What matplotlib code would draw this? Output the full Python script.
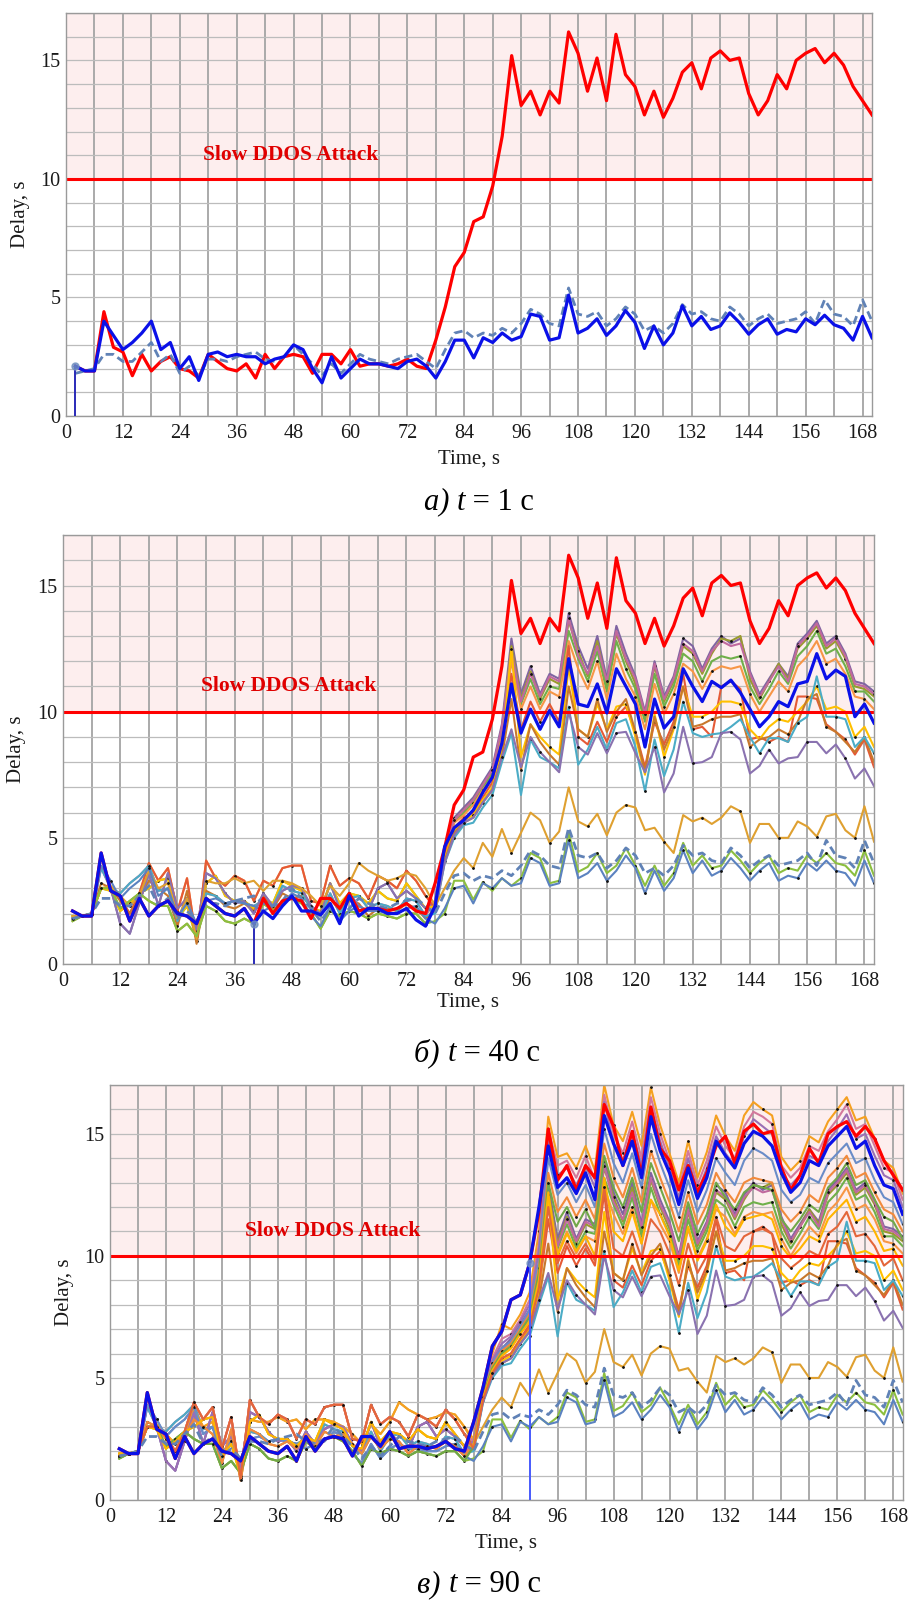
import numpy as np
import matplotlib
matplotlib.use("Agg")
import matplotlib.pyplot as plt
from matplotlib.offsetbox import TextArea, HPacker, AnnotationBbox

plt.rcParams["font.family"] = ["Liberation Serif", "DejaVu Serif"]

# time axis, one sample every 2 s
t = np.arange(2, 171, 2)

# ---- main series ----
red = [2.1, 1.9, 1.9, 4.4, 2.9, 2.7, 1.7, 2.6, 1.9, 2.3, 2.5, 2.0, 1.9, 1.6, 2.6, 2.3, 2.0, 1.9, 2.2, 1.6,
       2.6, 2.0, 2.5, 2.6, 2.5, 1.8, 2.6, 2.6, 2.2, 2.8, 2.1, 2.2, 2.2, 2.1, 2.2, 2.4, 2.1, 2.0,
       3.2, 4.6, 6.3, 6.9, 8.2, 8.4, 9.7, 11.8,
       15.2, 13.1, 13.7, 12.7, 13.7, 13.2,
       16.2, 15.3, 13.7, 15.1, 13.3, 16.1, 14.4, 13.9,
       12.7, 13.7, 12.6, 13.4, 14.5, 14.9, 13.8, 15.1, 15.4, 15.0, 15.1, 13.6,
       12.7, 13.3, 14.4, 13.8, 15.0, 15.3, 15.5, 14.9, 15.3, 14.8, 13.9, 13.3, 12.7]

blue1 = [2.1, 1.9, 1.9, 4.0, 3.4, 2.8, 3.1, 3.5, 4.0, 2.8, 3.1, 2.0, 2.5, 1.5, 2.6, 2.7, 2.5, 2.6, 2.5, 2.5,
         2.2, 2.4, 2.5, 3.0, 2.8, 2.0, 1.4, 2.5, 1.6, 2.0, 2.4, 2.2, 2.2, 2.1, 2.0, 2.3, 2.4, 2.1,
         1.6, 2.3, 3.2, 3.2, 2.45, 3.3, 3.1, 3.5,
         3.2, 3.35, 4.3, 4.2, 3.2, 3.3,
         5.1, 3.5, 3.7, 4.1, 3.4, 3.8, 4.45, 3.95,
         2.85, 3.8, 3.0, 3.5, 4.65, 3.8, 4.2, 3.65, 3.8, 4.35, 3.95, 3.45,
         3.85, 4.1, 3.45, 3.65, 3.55, 4.1, 3.85, 4.25, 3.85, 3.7, 3.2, 4.2, 3.3]

dashed = [1.8, 1.9, 2.0, 2.6, 2.6, 2.3, 2.3, 2.7, 3.1, 2.3, 2.6, 1.8, 2.1, 1.7, 2.4, 2.4, 2.3, 2.5, 2.6, 2.7,
          2.4, 2.3, 2.5, 3.0, 2.6, 2.2, 1.7, 2.2, 1.8, 2.2, 2.6, 2.4, 2.3, 2.2, 2.4, 2.5, 2.6, 2.3,
          2.0, 2.8, 3.5, 3.6, 3.3, 3.5, 3.4, 3.7,
          3.5, 3.9, 4.5, 4.3, 3.9, 3.8,
          5.4, 4.3, 4.2, 4.4, 3.8, 4.1, 4.6, 4.3,
          3.6, 3.8, 3.5, 3.9, 4.7, 4.3, 4.4, 4.1, 4.0, 4.6, 4.3, 3.8,
          4.1, 4.3, 3.9, 4.0, 4.1, 4.4, 3.9, 4.9, 4.3, 4.2, 3.8, 4.9, 4.0]

# prediction in panel b) after the 40 s cursor
blue2_mid = [2.1, 1.8, 2.3, 2.7, 2.1, 2.1, 1.95, 2.4, 1.6, 2.7, 1.9, 2.2, 2.2, 2.0, 2.0, 2.2, 1.75, 1.5]
blue2_post = [2.3, 4.65, 5.4, 5.7, 6.1, 6.8, 7.4, 8.75,
              11.1, 9.15, 10.1, 9.3, 10.05, 9.4,
              12.1, 10.3, 10.2, 11.1, 9.95, 11.7, 11.0, 10.3,
              8.6, 10.5, 9.35, 9.8, 11.7, 11.0, 10.4, 11.2, 10.95, 11.25, 10.75, 10.1,
              9.4, 9.8, 10.4, 10.2, 11.1, 11.2, 12.3, 11.3, 11.65, 11.4, 9.8, 10.3, 9.55]
blue2 = red[:20] + blue2_mid + blue2_post

# prediction in panel c) after the 90 s cursor
blue3_post = [12.0, 14.5, 12.8, 13.2, 12.55, 13.4, 12.3,
              15.75, 14.6, 13.7, 14.7, 13.2, 15.7, 14.3, 13.4,
              12.1, 13.6, 12.35, 13.2, 14.7, 14.1, 13.6, 14.6, 15.1, 14.9, 14.5, 13.4,
              12.6, 13.0, 13.9, 13.7, 14.5, 14.9, 15.3, 14.4, 14.7, 13.7, 12.9, 12.75, 11.7]
blue3 = red[:45] + blue3_post

# ---- background curves: before the attack (t = 2..76) ----
pre_a = [1.8, 1.9, 2.0, 3.0, 3.0, 2.6, 2.0, 2.8, 4.0, 3.3, 3.8, 2.1, 3.4, 0.9, 4.1, 3.4, 3.1, 3.5, 3.3, 2.5,
         3.3, 3.1, 3.8, 3.9, 3.9, 2.5, 2.4, 3.9, 3.1, 3.4, 3.2, 2.6, 3.5, 3.3, 3.0, 3.7, 3.3, 2.7]
pre_b = [1.9, 1.9, 2.0, 3.0, 3.1, 2.7, 2.3, 2.7, 3.7, 3.0, 3.2, 1.8, 2.6, 1.0, 3.3, 3.2, 3.2, 3.4, 3.2, 3.3,
         2.9, 3.3, 3.3, 3.2, 3.0, 2.7, 2.3, 3.1, 2.7, 3.2, 4.0, 3.7, 3.5, 3.3, 3.4, 3.6, 3.5, 3.0]
pre_c = [1.8, 1.9, 2.0, 4.3, 3.0, 1.6, 1.2, 2.4, 3.6, 2.3, 3.6, 2.2, 2.6, 1.3, 3.6, 3.4, 2.8, 2.4, 2.5, 2.0,
         2.8, 2.3, 2.9, 3.1, 3.0, 2.3, 2.0, 3.2, 2.2, 2.8, 2.3, 2.1, 3.0, 3.2, 2.6, 2.9, 2.6, 2.2]
pre_d = [1.7, 1.9, 2.0, 3.0, 3.0, 2.2, 2.5, 2.8, 2.5, 2.3, 2.3, 1.3, 1.6, 1.1, 2.3, 2.1, 1.7, 1.6, 1.8, 1.6,
         2.4, 2.1, 2.5, 2.6, 2.4, 2.0, 1.4, 2.1, 1.9, 2.1, 2.0, 1.8, 2.0, 1.9, 1.8, 2.0, 2.0, 1.6]
pre_e = [1.9, 1.9, 2.0, 3.0, 2.9, 2.1, 2.4, 2.8, 3.0, 3.3, 3.4, 1.8, 2.3, 1.0, 3.2, 3.5, 2.7, 2.5, 2.5, 2.2,
         2.6, 2.4, 3.3, 3.1, 2.9, 2.2, 2.1, 3.2, 2.4, 2.8, 2.7, 2.4, 2.9, 2.6, 2.5, 3.2, 2.7, 2.2]
pre_f = [1.8, 1.9, 2.0, 3.8, 3.0, 2.8, 3.2, 3.5, 3.9, 2.9, 3.0, 1.7, 2.5, 1.5, 2.8, 2.7, 2.4, 2.5, 2.4, 2.3,
         2.5, 2.3, 3.1, 2.9, 2.8, 2.2, 1.9, 2.8, 2.0, 2.6, 2.7, 2.2, 2.4, 2.3, 2.1, 2.6, 2.5, 1.9]
pre_g = [1.8, 1.9, 1.9, 3.9, 3.3, 2.6, 3.0, 3.3, 3.8, 2.7, 3.0, 1.9, 2.4, 1.6, 2.5, 2.6, 2.4, 2.5, 2.4, 2.3,
         2.1, 2.3, 2.4, 2.8, 2.6, 1.9, 1.5, 2.3, 1.7, 2.1, 2.3, 2.1, 2.1, 2.0, 2.0, 2.2, 2.3, 1.8]
pre_h = [1.8, 1.9, 2.0, 3.2, 3.0, 2.5, 2.0, 2.6, 3.3, 3.0, 2.7, 1.5, 2.9, 0.8, 2.9, 2.7, 2.3, 2.2, 2.4, 2.1,
         2.7, 2.2, 2.8, 2.6, 2.7, 2.3, 1.9, 2.6, 2.1, 2.5, 2.4, 1.9, 2.2, 2.2, 2.1, 2.4, 2.2, 1.8]

# ---- background curves: from the attack on (t = 78..170) ----
up1 = [2.5, 4.6, 5.8, 6.2, 6.6, 7.2, 7.8, 9.5, 12.9, 10.7, 11.8, 10.7, 11.5, 11.3,
       13.9, 12.6, 11.7, 13.0, 11.3, 13.4, 12.3, 11.4, 10.0, 12.0, 10.6, 11.4, 12.9, 12.6, 11.7, 12.5, 13.0, 12.7, 12.9, 11.6,
       10.7, 11.3, 11.9, 11.4, 12.7, 13.1, 13.6, 12.7, 13.0, 12.3, 11.2, 11.1, 10.8]
up2 = [2.4, 4.5, 5.7, 6.1, 6.5, 7.1, 7.6, 9.3, 12.6, 10.5, 11.6, 10.5, 11.3, 11.1,
       13.6, 12.4, 11.4, 12.8, 11.0, 13.1, 12.0, 11.1, 9.8, 11.8, 10.4, 11.2, 12.6, 12.3, 11.5, 12.3, 12.9, 12.8, 13.0, 11.3,
       10.5, 11.2, 11.9, 11.3, 12.5, 12.9, 13.4, 12.5, 12.8, 12.1, 11.0, 10.9, 10.6]
up3 = [2.3, 4.4, 5.6, 6.0, 6.4, 7.0, 7.5, 9.1, 12.3, 10.3, 11.3, 10.3, 11.0, 10.9,
       13.2, 12.1, 11.2, 12.4, 10.8, 12.8, 11.7, 10.9, 9.6, 11.5, 10.2, 11.0, 12.3, 12.0, 11.2, 12.0, 12.2, 12.1, 12.2, 11.0,
       10.3, 10.9, 11.6, 11.1, 12.2, 12.6, 13.2, 12.3, 12.5, 11.8, 10.8, 10.8, 10.4]
up4 = [2.4, 4.5, 5.6, 5.9, 6.3, 6.9, 7.4, 9.0, 12.0, 10.1, 11.0, 10.1, 10.8, 10.6,
       12.8, 11.7, 10.9, 12.0, 10.5, 12.3, 11.3, 10.6, 9.3, 11.1, 9.9, 10.7, 11.9, 11.6, 10.9, 11.6, 11.8, 11.7, 11.8, 10.7,
       10.0, 10.6, 11.2, 10.8, 11.8, 12.2, 12.8, 11.9, 12.1, 11.5, 10.6, 10.5, 10.1]
up5 = [2.5, 4.6, 5.7, 6.1, 6.5, 7.1, 7.7, 9.4, 12.4, 10.4, 11.5, 10.6, 11.4, 11.2,
       13.7, 12.2, 11.5, 12.6, 11.2, 13.2, 12.1, 11.3, 9.9, 11.9, 10.5, 11.3, 12.7, 12.4, 11.6, 12.4, 12.8, 12.6, 12.7, 11.5,
       10.6, 11.2, 11.8, 11.2, 12.6, 13.0, 13.5, 12.6, 12.9, 12.2, 11.1, 11.0, 10.7]
mid_red = [2.2, 4.3, 5.4, 5.8, 6.0, 6.6, 7.2, 8.6, 11.5, 9.3, 10.4, 9.6, 10.3, 9.6,
           12.6, 9.0, 8.7, 9.6, 8.8, 9.8, 10.2, 9.2, 7.8, 9.6, 8.7, 9.6, 11.5, 9.3, 9.4, 9.0, 11.0, 11.2, 10.9, 8.9,
           9.0, 8.8, 9.0, 8.8, 10.6, 10.6, 10.5, 9.5, 9.2, 8.9, 8.3, 8.9, 7.8]
yellow = [2.3, 4.2, 5.3, 5.7, 5.9, 6.5, 7.0, 8.4, 12.5, 8.2, 9.5, 9.0, 8.6, 8.3,
          11.8, 9.3, 9.0, 10.3, 9.3, 10.2, 10.3, 9.0, 7.5, 9.9, 8.2, 9.3, 11.0, 9.8, 9.8, 10.0, 10.4, 10.4, 10.3, 9.3,
          8.9, 9.4, 9.7, 9.6, 10.0, 10.4, 11.0, 10.1, 10.2, 10.0, 9.0, 9.4, 8.6]
brown = [2.1, 4.1, 5.2, 5.6, 5.8, 6.4, 6.9, 8.2, 10.5, 7.7, 9.5, 8.8, 8.3, 7.9,
         11.0, 9.3, 9.0, 10.5, 9.2, 10.0, 10.5, 9.2, 7.6, 9.8, 8.5, 9.4, 11.0, 9.4, 9.5, 9.7, 9.8, 9.8, 9.9, 8.6,
         8.9, 9.0, 9.3, 9.1, 9.6, 10.5, 10.7, 9.4, 9.2, 8.8, 8.4, 9.0, 8.0]
sky = [2.0, 4.0, 5.0, 5.5, 5.6, 6.2, 6.7, 8.0, 9.15, 6.7, 8.9, 8.2, 8.0, 7.75,
       10.2, 7.9, 8.5, 9.4, 8.5, 9.55, 9.7, 8.6, 6.85, 8.9, 7.45, 8.5, 10.4, 9.15, 9.0, 9.1, 9.15, 9.4, 9.7, 9.0,
       8.35, 8.95, 8.95, 8.8, 9.55, 9.8, 11.4, 9.8, 9.8, 9.7, 8.6, 9.0, 8.35]
purple = [2.1, 4.0, 5.1, 5.6, 5.8, 6.4, 6.9, 8.2, 9.3, 7.8, 9.0, 8.4, 8.0, 7.6,
          10.0, 8.6, 8.3, 9.15, 8.35, 9.15, 9.2, 8.35, 7.6, 8.6, 6.8, 7.55, 9.4, 7.95, 8.0, 8.2, 9.15, 9.2, 8.9, 7.55,
          7.85, 8.5, 7.95, 8.15, 8.2, 8.8, 8.8, 8.35, 8.7, 8.15, 7.35, 7.75, 7.05]
gold = [2.3, 3.0, 3.7, 4.2, 3.8, 4.8, 4.25, 5.35, 4.4, 5.2, 6.0, 5.7, 4.8, 5.25,
        7.0, 5.65, 5.45, 5.95, 5.1, 6.0, 6.3, 6.2, 5.3, 5.4, 4.85, 4.4, 5.9, 5.65, 5.8, 5.55, 5.8, 6.25, 6.05, 4.8,
        5.55, 5.55, 5.0, 5.0, 5.65, 5.45, 5.05, 5.85, 5.95, 5.3, 5.0, 6.25, 4.85]
green = [1.7, 2.0, 3.3, 3.3, 2.55, 3.25, 2.9, 3.4, 3.1, 3.4, 4.4, 4.2, 3.2, 3.3,
         5.2, 3.65, 3.85, 4.4, 3.6, 3.9, 4.6, 3.9, 3.1, 3.9, 3.1, 3.6, 4.8, 3.9, 4.3, 3.8, 3.9, 4.5, 4.1, 3.6,
         4.0, 4.3, 3.6, 3.8, 3.7, 4.3, 4.0, 4.4, 4.0, 3.9, 3.5, 4.5, 3.5]
steel = [1.6, 2.2, 3.0, 3.1, 2.4, 3.2, 3.0, 3.4, 3.1, 3.2, 4.2, 4.0, 3.1, 3.2,
         4.9, 3.4, 3.6, 4.0, 3.3, 3.7, 4.3, 3.8, 2.8, 3.7, 2.9, 3.4, 4.5, 3.6, 4.1, 3.5, 3.7, 4.2, 3.8, 3.3,
         3.7, 4.0, 3.3, 3.5, 3.4, 4.0, 3.7, 4.1, 3.7, 3.6, 3.1, 4.1, 3.2]

# extra curves that only appear in panel c)
top1 = [2.5, 4.6, 6.0, 7.2, 7.0, 7.6, 8.5, 11.0, 15.7, 14.05, 14.2, 13.6, 14.5, 13.5,
        17.0, 15.35, 14.7, 15.9, 14.5, 16.9, 15.35, 14.2, 13.0, 14.7, 13.2, 14.25, 15.75, 14.9, 14.3, 15.75, 16.3, 16.0, 15.75, 14.05,
        13.5, 13.9, 14.9, 14.65, 15.5, 16.0, 16.5, 15.55, 15.7, 14.8, 13.9, 13.6, 12.55]
top2 = [2.4, 4.5, 5.8, 6.6, 6.8, 7.4, 8.2, 10.5, 15.2, 13.7, 13.9, 13.2, 14.1, 13.1,
        16.6, 15.0, 14.2, 15.5, 14.0, 16.5, 15.0, 13.9, 12.7, 14.3, 12.9, 13.9, 15.3, 14.5, 14.0, 15.3, 15.9, 15.7, 15.4, 13.7,
        13.2, 13.6, 14.5, 14.3, 15.1, 15.6, 16.2, 15.2, 15.4, 14.5, 13.6, 13.4, 12.3]
top3 = [2.4, 4.5, 5.7, 6.4, 6.7, 7.3, 8.0, 10.2, 14.8, 13.3, 13.6, 12.9, 13.7, 12.8,
        16.3, 14.6, 13.9, 15.1, 13.7, 16.1, 14.7, 13.6, 12.4, 14.0, 12.6, 13.6, 14.9, 14.2, 13.7, 14.9, 15.6, 15.3, 15.0, 13.4,
        12.9, 13.3, 14.1, 13.9, 14.7, 15.2, 15.8, 14.8, 15.0, 14.1, 13.3, 13.1, 12.0]
band1 = [2.3, 4.4, 5.6, 6.2, 6.5, 7.1, 7.8, 9.8, 14.0, 12.5, 13.0, 12.2, 12.9, 12.0,
         15.2, 13.8, 13.0, 14.2, 12.8, 15.0, 13.8, 12.8, 11.6, 13.1, 11.8, 12.7, 14.0, 13.4, 12.9, 13.9, 14.4, 14.2, 13.9, 12.7,
         12.2, 12.5, 13.2, 13.0, 13.8, 14.2, 14.6, 13.8, 14.0, 13.1, 12.4, 12.2, 11.3]
band2 = [2.3, 4.3, 5.5, 6.1, 6.4, 7.0, 7.6, 9.5, 13.4, 11.8, 12.4, 11.6, 12.3, 11.5,
         14.6, 13.2, 12.4, 13.6, 12.2, 14.3, 13.2, 12.2, 11.0, 12.6, 11.3, 12.1, 13.4, 12.7, 12.2, 13.0, 13.2, 13.1, 13.0, 11.9,
         11.4, 11.8, 12.5, 12.2, 13.2, 13.6, 14.1, 13.2, 13.4, 12.6, 11.9, 11.7, 11.0]
band3 = [2.2, 4.3, 5.4, 6.0, 6.3, 6.9, 7.5, 9.3, 13.0, 11.4, 12.0, 11.2, 11.9, 11.1,
         14.1, 12.8, 12.0, 13.2, 11.8, 13.8, 12.8, 11.8, 10.6, 12.2, 10.9, 11.7, 13.0, 12.4, 11.9, 12.6, 12.9, 12.8, 12.7, 11.5,
         11.0, 11.5, 12.1, 11.8, 12.8, 13.2, 13.8, 12.9, 13.1, 12.3, 11.6, 11.4, 10.7]
mid1 = [2.2, 4.2, 5.3, 5.9, 6.2, 6.8, 7.3, 9.0, 12.6, 10.0, 10.9, 10.2, 10.8, 10.0,
        13.2, 11.0, 10.6, 11.8, 10.5, 12.3, 11.7, 10.8, 9.4, 11.2, 9.8, 10.6, 12.1, 11.2, 10.8, 11.5, 11.6, 11.7, 11.5, 10.4,
        9.9, 10.3, 10.8, 10.6, 11.5, 11.9, 12.3, 11.4, 11.6, 11.0, 10.2, 10.3, 9.6]
mid2 = [2.1, 4.1, 5.2, 5.8, 6.0, 6.6, 7.1, 8.7, 12.0, 9.7, 10.6, 9.9, 10.5, 9.8,
        12.8, 10.3, 10.0, 11.0, 9.9, 11.5, 11.0, 10.1, 8.8, 10.5, 9.3, 10.0, 11.6, 10.4, 10.2, 10.8, 11.0, 11.1, 10.9, 9.9,
        9.5, 9.8, 10.2, 10.0, 10.9, 11.2, 11.8, 10.8, 10.9, 10.4, 9.6, 9.9, 9.0]

# (pre part, post part, colour)
curves_b = [
    (pre_c, up1, "#8064a2"), (pre_d, up2, "#9a9a2e"), (pre_e, up3, "#6fb04a"),
    (pre_a, up4, "#f79646"), (pre_f, up5, "#c0699e"), (pre_a, mid_red, "#e55a36"),
    (pre_e, yellow, "#ffc000"), (pre_h, brown, "#c8782c"), (pre_f, sky, "#4bacc6"),
    (pre_c, purple, "#8a72b0"), (pre_b, gold, "#dfa030"), (pre_d, green, "#8cbf3f"),
    (pre_g, steel, "#5b82c0"),
]
curves_c_extra = [
    (pre_b, top1, "#f5a020"), (pre_a, top2, "#d2789c"), (pre_c, top3, "#9b6fb5"),
    (pre_g, band1, "#6a8cc8"), (pre_h, band2, "#f28a3c"), (pre_d, band3, "#70a848"),
    (pre_e, mid1, "#ffb400"), (pre_a, mid2, "#e4663a"),
]

cursor_times = [2, 40, 90]
captions = [("а) ", "1"), ("б) ", "40"), ("в) ", "90")]

fig = plt.figure(figsize=(9.09, 16.0), dpi=100)
axes = [
    fig.add_axes([0.0726, 0.740, 0.8867, 0.2519]),
    fig.add_axes([0.0693, 0.3975, 0.8922, 0.2681]),
    fig.add_axes([0.1210, 0.0625, 0.8720, 0.2594]),
]
xlabel_y = [-0.107, -0.089, -0.104]


def style_axes(ax, xl_y):
    ax.set_xlim(0, 170)
    ax.set_ylim(0, 17)
    ax.set_xticks(range(0, 169, 12))
    ax.set_xticks(range(0, 171, 6), minor=True)
    ax.set_yticks([0, 5, 10, 15])
    ax.set_yticks(range(0, 18), minor=True)
    ax.set_axisbelow(True)
    ax.grid(which="both", axis="x", color="#a4a4a4", lw=1.3)
    ax.grid(which="both", axis="y", color="#bcbcbc", lw=0.9)
    ax.tick_params(which="both", length=0, labelsize=14.5, labelcolor="#1a1a1a")
    ax.tick_params(axis="x", pad=6)
    ax.tick_params(axis="y", pad=4)
    for sp in ax.spines.values():
        sp.set_color("#9a9a9a")
        sp.set_linewidth(1.0)
    ax.axhspan(10, 17, color="#fdeeee", zorder=0.2, lw=0)
    ax.axhline(10, color="#ff0000", lw=2.2, zorder=2.5)
    ax.text(29, 11.0, "Slow DDOS Attack", color="#e00000", fontsize=15.5,
            fontweight="bold", ha="left", va="center", zorder=4)
    ax.set_xlabel("Time, s", fontsize=15, va="center", color="#1a1a1a")
    ax.set_ylabel("Delay, s", fontsize=15, va="center", ha="center", color="#1a1a1a")
    ax.xaxis.set_label_coords(0.5, xl_y)
    ax.yaxis.set_label_coords(-0.057, 0.5)


def draw_curves(ax, curves):
    for i, (pre, post, col) in enumerate(curves):
        y = pre + post
        ax.plot(t, y, color=col, lw=1.5, zorder=2,
                marker=".", ms=2.0, mfc="#111111", mec="#111111", markevery=(i % 4, 4))


for ax, xl_y in zip(axes, xlabel_y):
    style_axes(ax, xl_y)

# panel a)
ax = axes[0]
ax.plot(t, red, color="#ff0000", lw=2.3, zorder=3)
ax.plot(t, dashed, color="#6082b6", lw=2.0, ls=(0, (3, 1.6)), zorder=3.1)
ax.plot(t, blue1, color="#0a10e8", lw=2.3, zorder=3.2)

# panel b)
ax = axes[1]
draw_curves(ax, curves_b)
ax.plot(t, dashed, color="#6082b6", lw=2.0, ls=(0, (3, 1.6)), zorder=2.2)
ax.plot(t, red, color="#ff0000", lw=2.3, zorder=3)
ax.plot(t, blue2, color="#0a10e8", lw=2.3, zorder=3.2)

# panel c)
ax = axes[2]
draw_curves(ax, curves_b + curves_c_extra)
ax.plot(t, dashed, color="#6082b6", lw=2.0, ls=(0, (3, 1.6)), zorder=2.2)
ax.plot(t, red, color="#ff0000", lw=2.3, zorder=3)
ax.plot(t, blue3, color="#0a10e8", lw=2.3, zorder=3.2)

# time cursors
blues = [blue1, blue2, blue3]
cursor_cols = ["#2a2ab8", "#2a2ab8", "#4a5cff"]
for ax, ct, bl, cc in zip(axes, cursor_times, blues, cursor_cols):
    val = bl[list(t).index(ct)]
    ax.vlines(ct, 0, val, color=cc, lw=1.4, zorder=3.3)
    ax.plot([ct], [val], "o", color="#7090c0", ms=5, alpha=0.8, zorder=3.4)

# captions under each panel
cap_pos = [(0.527, 1 - 502 / 1600), (0.525, 1 - 1053 / 1600), (0.527, 1 - 1585 / 1600)]
for (letter, val), (cx, cy) in zip(captions, cap_pos):
    parts = [
        TextArea(letter, textprops=dict(fontsize=22, style="italic")),
        TextArea("t", textprops=dict(fontsize=22, style="italic")),
        TextArea(" = " + val + " с", textprops=dict(fontsize=22)),
    ]
    box = HPacker(children=parts, align="baseline", pad=0, sep=0)
    ab = AnnotationBbox(box, (cx, cy), xycoords="figure fraction", frameon=False,
                        box_alignment=(0.5, 0.5), annotation_clip=False)
    fig.add_artist(ab)

fig.savefig("out.png", dpi=100)
